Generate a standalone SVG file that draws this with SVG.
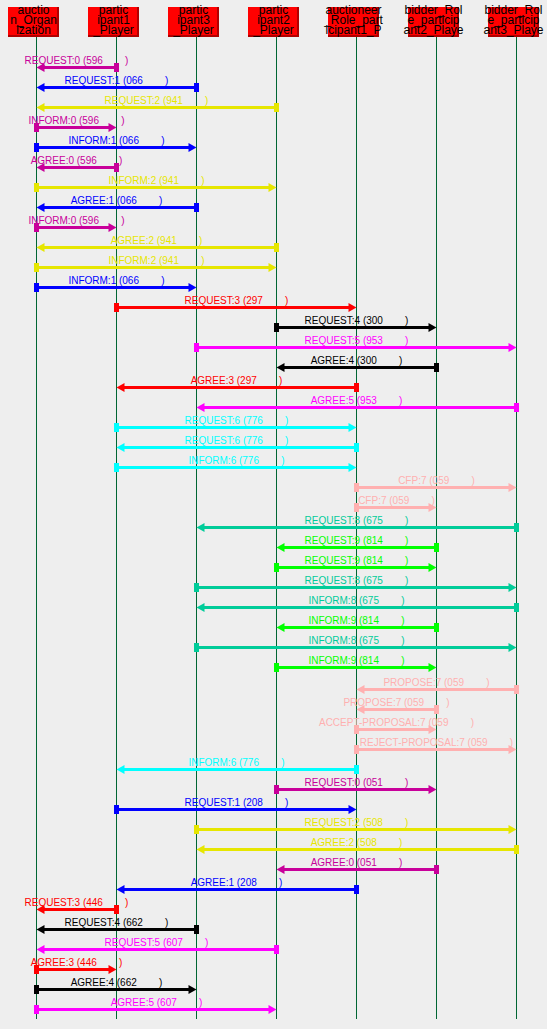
<svg xmlns="http://www.w3.org/2000/svg" width="547" height="1029" viewBox="0 0 547 1029">
<style>
.hdr rect.b{fill:#ff0000}
.hdr rect.s{fill:#b00000}
.hdr text{font-family:"Liberation Sans",Arial,sans-serif;font-size:12px;fill:#000;text-anchor:middle}
.life{stroke:#006633;stroke-width:1}
.msg line{stroke:currentColor;stroke-width:3}
.msg rect,.msg polygon,.msg text{fill:currentColor}
.msg text{font-family:"Liberation Sans",Arial,sans-serif;font-size:10px;text-anchor:middle}
.cm{color:#c8009a}.cb{color:#0000ff}.cy{color:#e6e600}.cr{color:#ff0000}.ck{color:#000000}
.cp{color:#ff00ff}.cc{color:#00ffff}.cf{color:#ffb0b0}.ct{color:#00cc99}.cg{color:#00ff00}
</style>
<rect x="0" y="0" width="547" height="1029" fill="#eeeeee"/>
<g id="lifelines">
<line class="life" x1="36.5" y1="37" x2="36.5" y2="1019"/>
<line class="life" x1="116.5" y1="37" x2="116.5" y2="1019"/>
<line class="life" x1="196.5" y1="37" x2="196.5" y2="1019"/>
<line class="life" x1="276.5" y1="37" x2="276.5" y2="1019"/>
<line class="life" x1="356.5" y1="37" x2="356.5" y2="1019"/>
<line class="life" x1="436.5" y1="37" x2="436.5" y2="1019"/>
<line class="life" x1="516.5" y1="37" x2="516.5" y2="1019"/>
</g>
<g id="node-auction_Organization" class="hdr"><rect class="b" x="8" y="7" width="51" height="30"/><rect class="s" x="57" y="7" width="2" height="30"/><rect class="s" x="8" y="35" width="51" height="2"/><text x="33.5" y="14">auctio</text><text x="33.5" y="24">n_Organ</text><text x="33.5" y="34">ization</text></g>
<g id="node-participant1_Player" class="hdr"><rect class="b" x="88" y="7" width="51" height="30"/><rect class="s" x="137" y="7" width="2" height="30"/><rect class="s" x="88" y="35" width="51" height="2"/><text x="113.5" y="14">partic</text><text x="113.5" y="24">ipant1</text><text x="113.5" y="34">_Player</text></g>
<g id="node-participant3_Player" class="hdr"><rect class="b" x="168" y="7" width="51" height="30"/><rect class="s" x="217" y="7" width="2" height="30"/><rect class="s" x="168" y="35" width="51" height="2"/><text x="193.5" y="14">partic</text><text x="193.5" y="24">ipant3</text><text x="193.5" y="34">_Player</text></g>
<g id="node-participant2_Player" class="hdr"><rect class="b" x="248" y="7" width="51" height="30"/><rect class="s" x="297" y="7" width="2" height="30"/><rect class="s" x="248" y="35" width="51" height="2"/><text x="273.5" y="14">partic</text><text x="273.5" y="24">ipant2</text><text x="273.5" y="34">_Player</text></g>
<g id="node-auctioneer" class="hdr"><rect class="b" x="328" y="7" width="51" height="30"/><rect class="s" x="377" y="7" width="2" height="30"/><rect class="s" x="328" y="35" width="51" height="2"/><text x="353.5" y="14">auctioneer</text><text x="353.5" y="24">_Role_part</text><text x="353.5" y="34">icipant1_P</text></g>
<g id="node-bidder2" class="hdr"><rect class="b" x="408" y="7" width="51" height="30"/><rect class="s" x="457" y="7" width="2" height="30"/><rect class="s" x="408" y="35" width="51" height="2"/><text x="433.5" y="14">bidder_Rol</text><text x="433.5" y="24">e_particip</text><text x="433.5" y="34">ant2_Playe</text></g>
<g id="node-bidder3" class="hdr"><rect class="b" x="488" y="7" width="51" height="30"/><rect class="s" x="537" y="7" width="2" height="30"/><rect class="s" x="488" y="35" width="51" height="2"/><text x="513.5" y="14">bidder_Rol</text><text x="513.5" y="24">e_particip</text><text x="513.5" y="34">ant3_Playe</text></g>
<g id="connectors">
<g class="msg cm"><line x1="116.5" y1="67.5" x2="40.5" y2="67.5"/><rect x="114" y="63" width="5" height="9"/><polygon points="36.5,67.5 44.5,63 44.5,72"/><text x="76.5" y="63.5">REQUEST:0 (596&#160;&#160;&#160;&#160;&#160;&#160;&#160;&#160;)</text></g>
<g class="msg cb"><line x1="196.5" y1="87.5" x2="40.5" y2="87.5"/><rect x="194" y="83" width="5" height="9"/><polygon points="36.5,87.5 44.5,83 44.5,92"/><text x="116.5" y="83.5">REQUEST:1 (066&#160;&#160;&#160;&#160;&#160;&#160;&#160;&#160;)</text></g>
<g class="msg cy"><line x1="276.5" y1="107.5" x2="40.5" y2="107.5"/><rect x="274" y="103" width="5" height="9"/><polygon points="36.5,107.5 44.5,103 44.5,112"/><text x="156.5" y="103.5">REQUEST:2 (941&#160;&#160;&#160;&#160;&#160;&#160;&#160;&#160;)</text></g>
<g class="msg cm"><line x1="36.5" y1="127.5" x2="112.5" y2="127.5"/><rect x="34" y="123" width="5" height="9"/><polygon points="116.5,127.5 108.5,123 108.5,132"/><text x="76.5" y="123.5">INFORM:0 (596&#160;&#160;&#160;&#160;&#160;&#160;&#160;&#160;)</text></g>
<g class="msg cb"><line x1="36.5" y1="147.5" x2="192.5" y2="147.5"/><rect x="34" y="143" width="5" height="9"/><polygon points="196.5,147.5 188.5,143 188.5,152"/><text x="116.5" y="143.5">INFORM:1 (066&#160;&#160;&#160;&#160;&#160;&#160;&#160;&#160;)</text></g>
<g class="msg cm"><line x1="116.5" y1="167.5" x2="40.5" y2="167.5"/><rect x="114" y="163" width="5" height="9"/><polygon points="36.5,167.5 44.5,163 44.5,172"/><text x="76.5" y="163.5">AGREE:0 (596&#160;&#160;&#160;&#160;&#160;&#160;&#160;&#160;)</text></g>
<g class="msg cy"><line x1="36.5" y1="187.5" x2="272.5" y2="187.5"/><rect x="34" y="183" width="5" height="9"/><polygon points="276.5,187.5 268.5,183 268.5,192"/><text x="156.5" y="183.5">INFORM:2 (941&#160;&#160;&#160;&#160;&#160;&#160;&#160;&#160;)</text></g>
<g class="msg cb"><line x1="196.5" y1="207.5" x2="40.5" y2="207.5"/><rect x="194" y="203" width="5" height="9"/><polygon points="36.5,207.5 44.5,203 44.5,212"/><text x="116.5" y="203.5">AGREE:1 (066&#160;&#160;&#160;&#160;&#160;&#160;&#160;&#160;)</text></g>
<g class="msg cm"><line x1="36.5" y1="227.5" x2="112.5" y2="227.5"/><rect x="34" y="223" width="5" height="9"/><polygon points="116.5,227.5 108.5,223 108.5,232"/><text x="76.5" y="223.5">INFORM:0 (596&#160;&#160;&#160;&#160;&#160;&#160;&#160;&#160;)</text></g>
<g class="msg cy"><line x1="276.5" y1="247.5" x2="40.5" y2="247.5"/><rect x="274" y="243" width="5" height="9"/><polygon points="36.5,247.5 44.5,243 44.5,252"/><text x="156.5" y="243.5">AGREE:2 (941&#160;&#160;&#160;&#160;&#160;&#160;&#160;&#160;)</text></g>
<g class="msg cy"><line x1="36.5" y1="267.5" x2="272.5" y2="267.5"/><rect x="34" y="263" width="5" height="9"/><polygon points="276.5,267.5 268.5,263 268.5,272"/><text x="156.5" y="263.5">INFORM:2 (941&#160;&#160;&#160;&#160;&#160;&#160;&#160;&#160;)</text></g>
<g class="msg cb"><line x1="36.5" y1="287.5" x2="192.5" y2="287.5"/><rect x="34" y="283" width="5" height="9"/><polygon points="196.5,287.5 188.5,283 188.5,292"/><text x="116.5" y="283.5">INFORM:1 (066&#160;&#160;&#160;&#160;&#160;&#160;&#160;&#160;)</text></g>
<g class="msg cr"><line x1="116.5" y1="307.5" x2="352.5" y2="307.5"/><rect x="114" y="303" width="5" height="9"/><polygon points="356.5,307.5 348.5,303 348.5,312"/><text x="236.5" y="303.5">REQUEST:3 (297&#160;&#160;&#160;&#160;&#160;&#160;&#160;&#160;)</text></g>
<g class="msg ck"><line x1="276.5" y1="327.5" x2="432.5" y2="327.5"/><rect x="274" y="323" width="5" height="9"/><polygon points="436.5,327.5 428.5,323 428.5,332"/><text x="356.5" y="323.5">REQUEST:4 (300&#160;&#160;&#160;&#160;&#160;&#160;&#160;&#160;)</text></g>
<g class="msg cp"><line x1="196.5" y1="347.5" x2="512.5" y2="347.5"/><rect x="194" y="343" width="5" height="9"/><polygon points="516.5,347.5 508.5,343 508.5,352"/><text x="356.5" y="343.5">REQUEST:5 (953&#160;&#160;&#160;&#160;&#160;&#160;&#160;&#160;)</text></g>
<g class="msg ck"><line x1="436.5" y1="367.5" x2="280.5" y2="367.5"/><rect x="434" y="363" width="5" height="9"/><polygon points="276.5,367.5 284.5,363 284.5,372"/><text x="356.5" y="363.5">AGREE:4 (300&#160;&#160;&#160;&#160;&#160;&#160;&#160;&#160;)</text></g>
<g class="msg cr"><line x1="356.5" y1="387.5" x2="120.5" y2="387.5"/><rect x="354" y="383" width="5" height="9"/><polygon points="116.5,387.5 124.5,383 124.5,392"/><text x="236.5" y="383.5">AGREE:3 (297&#160;&#160;&#160;&#160;&#160;&#160;&#160;&#160;)</text></g>
<g class="msg cp"><line x1="516.5" y1="407.5" x2="200.5" y2="407.5"/><rect x="514" y="403" width="5" height="9"/><polygon points="196.5,407.5 204.5,403 204.5,412"/><text x="356.5" y="403.5">AGREE:5 (953&#160;&#160;&#160;&#160;&#160;&#160;&#160;&#160;)</text></g>
<g class="msg cc"><line x1="116.5" y1="427.5" x2="352.5" y2="427.5"/><rect x="114" y="423" width="5" height="9"/><polygon points="356.5,427.5 348.5,423 348.5,432"/><text x="236.5" y="423.5">REQUEST:6 (776&#160;&#160;&#160;&#160;&#160;&#160;&#160;&#160;)</text></g>
<g class="msg cc"><line x1="356.5" y1="447.5" x2="120.5" y2="447.5"/><rect x="354" y="443" width="5" height="9"/><polygon points="116.5,447.5 124.5,443 124.5,452"/><text x="236.5" y="443.5">REQUEST:6 (776&#160;&#160;&#160;&#160;&#160;&#160;&#160;&#160;)</text></g>
<g class="msg cc"><line x1="116.5" y1="467.5" x2="352.5" y2="467.5"/><rect x="114" y="463" width="5" height="9"/><polygon points="356.5,467.5 348.5,463 348.5,472"/><text x="236.5" y="463.5">INFORM:6 (776&#160;&#160;&#160;&#160;&#160;&#160;&#160;&#160;)</text></g>
<g class="msg cf"><line x1="356.5" y1="487.5" x2="512.5" y2="487.5"/><rect x="354" y="483" width="5" height="9"/><polygon points="516.5,487.5 508.5,483 508.5,492"/><text x="436.5" y="483.5">CFP:7 (059&#160;&#160;&#160;&#160;&#160;&#160;&#160;&#160;)</text></g>
<g class="msg cf"><line x1="356.5" y1="507.5" x2="432.5" y2="507.5"/><rect x="354" y="503" width="5" height="9"/><polygon points="436.5,507.5 428.5,503 428.5,512"/><text x="396.5" y="503.5">CFP:7 (059&#160;&#160;&#160;&#160;&#160;&#160;&#160;&#160;)</text></g>
<g class="msg ct"><line x1="516.5" y1="527.5" x2="200.5" y2="527.5"/><rect x="514" y="523" width="5" height="9"/><polygon points="196.5,527.5 204.5,523 204.5,532"/><text x="356.5" y="523.5">REQUEST:8 (675&#160;&#160;&#160;&#160;&#160;&#160;&#160;&#160;)</text></g>
<g class="msg cg"><line x1="436.5" y1="547.5" x2="280.5" y2="547.5"/><rect x="434" y="543" width="5" height="9"/><polygon points="276.5,547.5 284.5,543 284.5,552"/><text x="356.5" y="543.5">REQUEST:9 (814&#160;&#160;&#160;&#160;&#160;&#160;&#160;&#160;)</text></g>
<g class="msg cg"><line x1="276.5" y1="567.5" x2="432.5" y2="567.5"/><rect x="274" y="563" width="5" height="9"/><polygon points="436.5,567.5 428.5,563 428.5,572"/><text x="356.5" y="563.5">REQUEST:9 (814&#160;&#160;&#160;&#160;&#160;&#160;&#160;&#160;)</text></g>
<g class="msg ct"><line x1="196.5" y1="587.5" x2="512.5" y2="587.5"/><rect x="194" y="583" width="5" height="9"/><polygon points="516.5,587.5 508.5,583 508.5,592"/><text x="356.5" y="583.5">REQUEST:8 (675&#160;&#160;&#160;&#160;&#160;&#160;&#160;&#160;)</text></g>
<g class="msg ct"><line x1="516.5" y1="607.5" x2="200.5" y2="607.5"/><rect x="514" y="603" width="5" height="9"/><polygon points="196.5,607.5 204.5,603 204.5,612"/><text x="356.5" y="603.5">INFORM:8 (675&#160;&#160;&#160;&#160;&#160;&#160;&#160;&#160;)</text></g>
<g class="msg cg"><line x1="436.5" y1="627.5" x2="280.5" y2="627.5"/><rect x="434" y="623" width="5" height="9"/><polygon points="276.5,627.5 284.5,623 284.5,632"/><text x="356.5" y="623.5">INFORM:9 (814&#160;&#160;&#160;&#160;&#160;&#160;&#160;&#160;)</text></g>
<g class="msg ct"><line x1="196.5" y1="647.5" x2="512.5" y2="647.5"/><rect x="194" y="643" width="5" height="9"/><polygon points="516.5,647.5 508.5,643 508.5,652"/><text x="356.5" y="643.5">INFORM:8 (675&#160;&#160;&#160;&#160;&#160;&#160;&#160;&#160;)</text></g>
<g class="msg cg"><line x1="276.5" y1="667.5" x2="432.5" y2="667.5"/><rect x="274" y="663" width="5" height="9"/><polygon points="436.5,667.5 428.5,663 428.5,672"/><text x="356.5" y="663.5">INFORM:9 (814&#160;&#160;&#160;&#160;&#160;&#160;&#160;&#160;)</text></g>
<g class="msg cf"><line x1="516.5" y1="689.5" x2="360.5" y2="689.5"/><rect x="514" y="685" width="5" height="9"/><polygon points="356.5,689.5 364.5,685 364.5,694"/><text x="436.5" y="685.5">PROPOSE:7 (059&#160;&#160;&#160;&#160;&#160;&#160;&#160;&#160;)</text></g>
<g class="msg cf"><line x1="436.5" y1="709.5" x2="360.5" y2="709.5"/><rect x="434" y="705" width="5" height="9"/><polygon points="356.5,709.5 364.5,705 364.5,714"/><text x="396.5" y="705.5">PROPOSE:7 (059&#160;&#160;&#160;&#160;&#160;&#160;&#160;&#160;)</text></g>
<g class="msg cf"><line x1="356.5" y1="729.5" x2="432.5" y2="729.5"/><rect x="354" y="725" width="5" height="9"/><polygon points="436.5,729.5 428.5,725 428.5,734"/><text x="396.5" y="725.5">ACCEPT-PROPOSAL:7 (059&#160;&#160;&#160;&#160;&#160;&#160;&#160;&#160;)</text></g>
<g class="msg cf"><line x1="356.5" y1="749.5" x2="512.5" y2="749.5"/><rect x="354" y="745" width="5" height="9"/><polygon points="516.5,749.5 508.5,745 508.5,754"/><text x="436.5" y="745.5">REJECT-PROPOSAL:7 (059&#160;&#160;&#160;&#160;&#160;&#160;&#160;&#160;)</text></g>
<g class="msg cc"><line x1="356.5" y1="769.5" x2="120.5" y2="769.5"/><rect x="354" y="765" width="5" height="9"/><polygon points="116.5,769.5 124.5,765 124.5,774"/><text x="236.5" y="765.5">INFORM:6 (776&#160;&#160;&#160;&#160;&#160;&#160;&#160;&#160;)</text></g>
<g class="msg cm"><line x1="276.5" y1="789.5" x2="432.5" y2="789.5"/><rect x="274" y="785" width="5" height="9"/><polygon points="436.5,789.5 428.5,785 428.5,794"/><text x="356.5" y="785.5">REQUEST:0 (051&#160;&#160;&#160;&#160;&#160;&#160;&#160;&#160;)</text></g>
<g class="msg cb"><line x1="116.5" y1="809.5" x2="352.5" y2="809.5"/><rect x="114" y="805" width="5" height="9"/><polygon points="356.5,809.5 348.5,805 348.5,814"/><text x="236.5" y="805.5">REQUEST:1 (208&#160;&#160;&#160;&#160;&#160;&#160;&#160;&#160;)</text></g>
<g class="msg cy"><line x1="196.5" y1="829.5" x2="512.5" y2="829.5"/><rect x="194" y="825" width="5" height="9"/><polygon points="516.5,829.5 508.5,825 508.5,834"/><text x="356.5" y="825.5">REQUEST:2 (508&#160;&#160;&#160;&#160;&#160;&#160;&#160;&#160;)</text></g>
<g class="msg cy"><line x1="516.5" y1="849.5" x2="200.5" y2="849.5"/><rect x="514" y="845" width="5" height="9"/><polygon points="196.5,849.5 204.5,845 204.5,854"/><text x="356.5" y="845.5">AGREE:2 (508&#160;&#160;&#160;&#160;&#160;&#160;&#160;&#160;)</text></g>
<g class="msg cm"><line x1="436.5" y1="869.5" x2="280.5" y2="869.5"/><rect x="434" y="865" width="5" height="9"/><polygon points="276.5,869.5 284.5,865 284.5,874"/><text x="356.5" y="865.5">AGREE:0 (051&#160;&#160;&#160;&#160;&#160;&#160;&#160;&#160;)</text></g>
<g class="msg cb"><line x1="356.5" y1="889.5" x2="120.5" y2="889.5"/><rect x="354" y="885" width="5" height="9"/><polygon points="116.5,889.5 124.5,885 124.5,894"/><text x="236.5" y="885.5">AGREE:1 (208&#160;&#160;&#160;&#160;&#160;&#160;&#160;&#160;)</text></g>
<g class="msg cr"><line x1="116.5" y1="909.5" x2="40.5" y2="909.5"/><rect x="114" y="905" width="5" height="9"/><polygon points="36.5,909.5 44.5,905 44.5,914"/><text x="76.5" y="905.5">REQUEST:3 (446&#160;&#160;&#160;&#160;&#160;&#160;&#160;&#160;)</text></g>
<g class="msg ck"><line x1="196.5" y1="929.5" x2="40.5" y2="929.5"/><rect x="194" y="925" width="5" height="9"/><polygon points="36.5,929.5 44.5,925 44.5,934"/><text x="116.5" y="925.5">REQUEST:4 (662&#160;&#160;&#160;&#160;&#160;&#160;&#160;&#160;)</text></g>
<g class="msg cp"><line x1="276.5" y1="949.5" x2="40.5" y2="949.5"/><rect x="274" y="945" width="5" height="9"/><polygon points="36.5,949.5 44.5,945 44.5,954"/><text x="156.5" y="945.5">REQUEST:5 (607&#160;&#160;&#160;&#160;&#160;&#160;&#160;&#160;)</text></g>
<g class="msg cr"><line x1="36.5" y1="969.5" x2="112.5" y2="969.5"/><rect x="34" y="965" width="5" height="9"/><polygon points="116.5,969.5 108.5,965 108.5,974"/><text x="76.5" y="965.5">AGREE:3 (446&#160;&#160;&#160;&#160;&#160;&#160;&#160;&#160;)</text></g>
<g class="msg ck"><line x1="36.5" y1="989.5" x2="192.5" y2="989.5"/><rect x="34" y="985" width="5" height="9"/><polygon points="196.5,989.5 188.5,985 188.5,994"/><text x="116.5" y="985.5">AGREE:4 (662&#160;&#160;&#160;&#160;&#160;&#160;&#160;&#160;)</text></g>
<g class="msg cp"><line x1="36.5" y1="1009.5" x2="272.5" y2="1009.5"/><rect x="34" y="1005" width="5" height="9"/><polygon points="276.5,1009.5 268.5,1005 268.5,1014"/><text x="156.5" y="1005.5">AGREE:5 (607&#160;&#160;&#160;&#160;&#160;&#160;&#160;&#160;)</text></g>
</g>
</svg>
